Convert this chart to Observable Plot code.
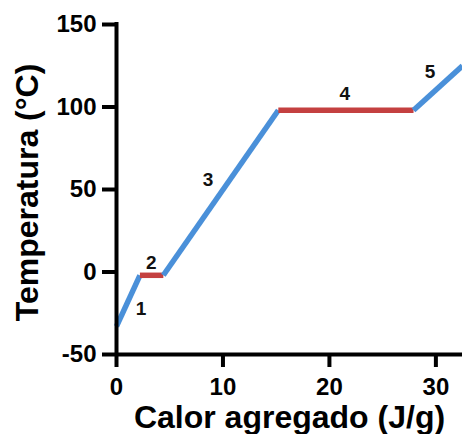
<!DOCTYPE html>
<html><head><meta charset="utf-8">
<script src="https://cdn.jsdelivr.net/npm/d3@7"></script>
<script src="https://cdn.jsdelivr.net/npm/@observablehq/plot@0.6"></script>
<style>
html,body{margin:0;padding:0;background:#fff;}
svg{font-family:"Liberation Sans",Arial,sans-serif;}
</style></head>
<body><div id="chart"></div>
<script>
const heat = [0, 2.2, 4.4, 15.2, 27.9, 32.5];
const temp = [-33, -2, -2, 98, 98, 125];
const phase = ["sens", "lat", "sens", "lat", "sens"];
const labelText = ["1", "2", "3", "4", "5"];
const labelX = [2.3, 3.27, 8.6, 21.45, 29.45];
const labelY = [-22.2, 5.6, 56, 108, 121];
const xTicks = [0, 10, 20, 30];
const yTicks = [-50, 0, 50, 100, 150];

const segs = phase.map((p, i) => ({x1: heat[i], y1: temp[i], x2: heat[i+1], y2: temp[i+1], p}));
const labels = labelText.map((t, i) => ({t, x: labelX[i], y: labelY[i]}));

const chart = Plot.plot({
  width: 462, height: 434,
  marginLeft: 116, marginRight: 0, marginTop: 24, marginBottom: 80,
  x: {domain: [0, 32.5]},
  y: {domain: [-50, 150]},
  color: {domain: ["sens", "lat"], range: ["#4a90d9", "#c44040"]},
  marks: [
    Plot.link(segs, {x1: "x1", y1: "y1", x2: "x2", y2: "y2", stroke: d => d.p, strokeWidth: 5.5, strokeLinecap: "butt"}),
    Plot.ruleX([0], {y1: -50, y2: 150, strokeWidth: 4, stroke: "black", strokeLinecap: "square"}),
    Plot.ruleY([-50], {x1: 0, x2: 32.5, strokeWidth: 4, stroke: "black"}),
    Plot.axisY({ticks: yTicks, tickSize: 14, tickPadding: 6, fontSize: 24, fontWeight: "bold", strokeWidth: 4, label: null, tickFormat: d => d < 0 ? "-" + Math.abs(d) : String(d), color: "black"}),
    Plot.axisX({ticks: xTicks, tickSize: 13, tickPadding: 10, fontSize: 24, fontWeight: "bold", strokeWidth: 4, label: null, color: "black"}),
    Plot.text(labels, {x: "x", y: "y", text: "t", fontSize: 19, fontWeight: "bold", fill: "#111"}),
    Plot.text(["Calor agregado (J/g)"], {frameAnchor: "bottom", lineAnchor: "bottom", textAnchor: "middle", dy: 73, fontSize: 32, fontWeight: "bold", fill: "black"}),
    Plot.text(["Temperatura (°C)"], {frameAnchor: "left", rotate: -90, textAnchor: "middle", lineAnchor: "bottom", dx: -79, dy: 3, fontSize: 32, fontWeight: "bold", fill: "black"})
  ]
});
document.getElementById("chart").appendChild(chart);
</script></body></html>
